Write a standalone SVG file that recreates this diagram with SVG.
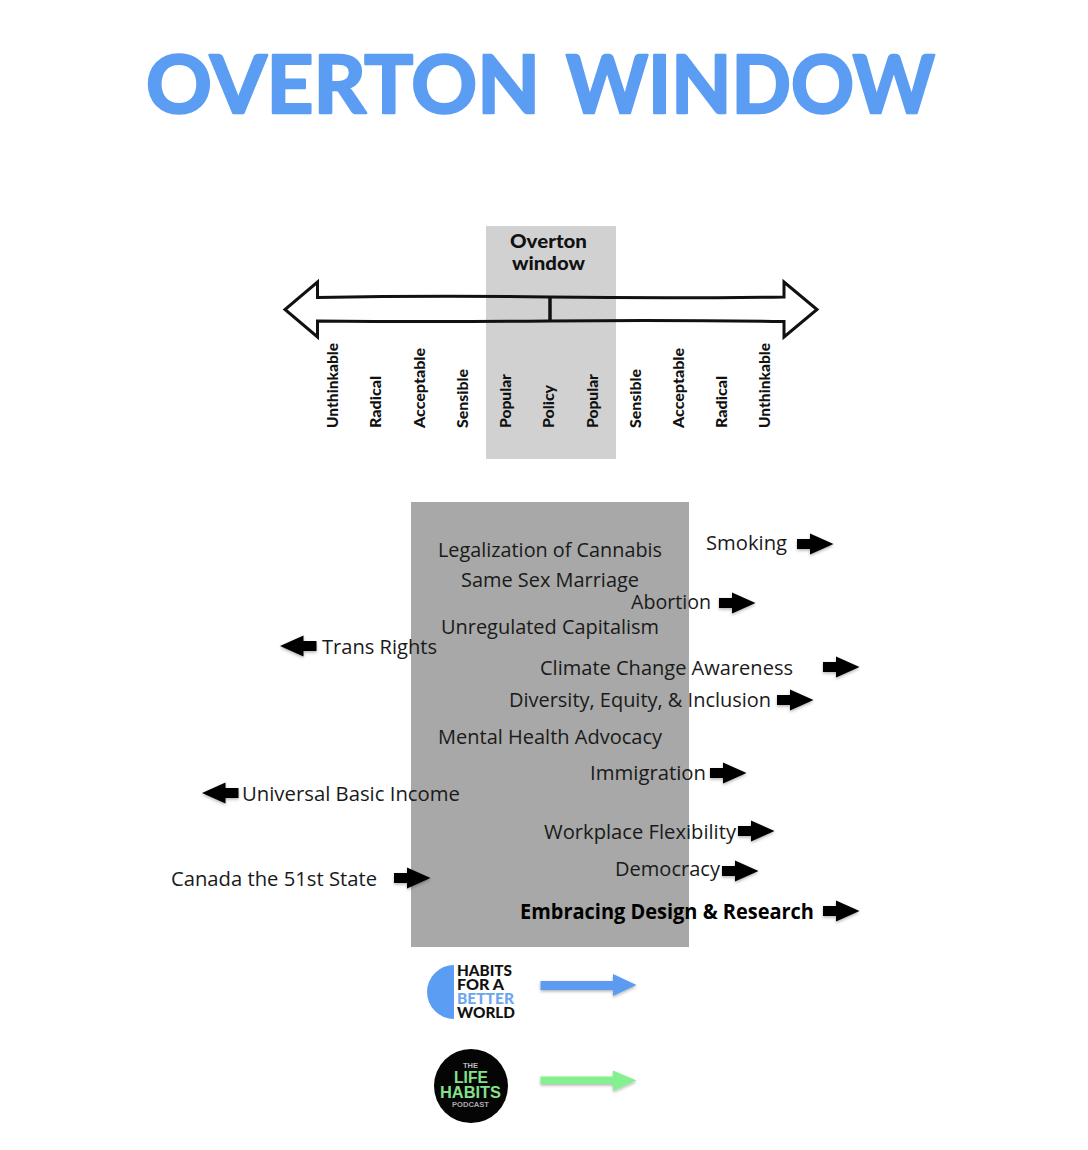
<svg xmlns="http://www.w3.org/2000/svg" width="1088" height="1150" viewBox="0 0 1088 1150">
<style>
.t{font-family:"Open Sans","Noto Sans","Liberation Sans",sans-serif;font-size:20.500px;fill:#1a1a1a}
.b{font-weight:700;fill:#000}
.v{font-family:"Lato","Liberation Sans",sans-serif;font-weight:900;font-size:15px;fill:#111}
.h{font-family:"Lato","Liberation Sans",sans-serif;font-weight:900;font-size:19px;fill:#111}
.l{font-family:"Lato","Liberation Sans",sans-serif;font-weight:900;fill:#111;font-size:14.500px}
.p{font-family:"Liberation Sans",sans-serif;font-weight:700}
</style>
<defs>
<filter id="s" x="-20%" y="-30%" width="140%" height="170%"><feDropShadow dx="0" dy="1.500" stdDeviation="1.500" flood-color="#000" flood-opacity=".3"/></filter>
<path id="ar" d="M0-5H13V-10.500L36.500 0L13 10.500V5H0Z" fill="#000" filter="url(#s)"/>
<path id="al" d="M36.500-5H23.500V-10.500L0 0L23.500 10.500V5H36.500Z" fill="#000" filter="url(#s)"/>
</defs>

<text id="title" y="113" font-family="Lato,'Liberation Sans',sans-serif" font-weight="700" font-size="80" fill="#5b9df2" stroke="#5b9df2" stroke-width="2.500" stroke-linejoin="round"><tspan x="146" textLength="394" lengthAdjust="spacingAndGlyphs">OVERTON</tspan> <tspan x="566" textLength="369" lengthAdjust="spacingAndGlyphs">WINDOW</tspan></text>

<g id="spectrum">
<rect x="486" y="226" width="130" height="233" fill="#d1d1d1"/>
<path fill="none" stroke="#111" stroke-width="3" stroke-linejoin="miter" d="M317.500 297.500Q430 295.500 549 297Q670 298.500 784 297V282L817 309.500L784 337V321.500Q670 320 549 321Q430 322 317.500 321V337L285 309.500L317.500 282Z"/>
<path d="M550 297V321" stroke="#111" stroke-width="3.500" fill="none"/>
<text class="h" x="510" y="248" textLength="77" lengthAdjust="spacingAndGlyphs">Overton</text>
<text class="h" x="512" y="270" textLength="73" lengthAdjust="spacingAndGlyphs">window</text>
<text class="v" transform="translate(338 428) rotate(-90)" textLength="85" lengthAdjust="spacingAndGlyphs">Unthinkable</text>
<text class="v" transform="translate(381 428) rotate(-90)" textLength="52" lengthAdjust="spacingAndGlyphs">Radical</text>
<text class="v" transform="translate(424.500 428) rotate(-90)" textLength="80" lengthAdjust="spacingAndGlyphs">Acceptable</text>
<text class="v" transform="translate(467.500 428) rotate(-90)" textLength="59" lengthAdjust="spacingAndGlyphs">Sensible</text>
<text class="v" transform="translate(511 428) rotate(-90)" textLength="54" lengthAdjust="spacingAndGlyphs">Popular</text>
<text class="v" transform="translate(554 428) rotate(-90)" textLength="43" lengthAdjust="spacingAndGlyphs">Policy</text>
<text class="v" transform="translate(597.500 428) rotate(-90)" textLength="54" lengthAdjust="spacingAndGlyphs">Popular</text>
<text class="v" transform="translate(640.500 428) rotate(-90)" textLength="59" lengthAdjust="spacingAndGlyphs">Sensible</text>
<text class="v" transform="translate(684 428) rotate(-90)" textLength="80" lengthAdjust="spacingAndGlyphs">Acceptable</text>
<text class="v" transform="translate(727 428) rotate(-90)" textLength="52" lengthAdjust="spacingAndGlyphs">Radical</text>
<text class="v" transform="translate(770 428) rotate(-90)" textLength="85" lengthAdjust="spacingAndGlyphs">Unthinkable</text>
</g>

<rect id="window" x="411" y="502" width="278" height="445" fill="#a7a8a7"/>

<g id="labels">
<text class="t" x="438" y="557" textLength="224" lengthAdjust="spacingAndGlyphs">Legalization of Cannabis</text>
<text class="t" x="461" y="587" textLength="178" lengthAdjust="spacingAndGlyphs">Same Sex Marriage</text>
<text class="t" x="706" y="550" textLength="81" lengthAdjust="spacingAndGlyphs">Smoking</text>
<text class="t" x="631" y="609" textLength="80" lengthAdjust="spacingAndGlyphs">Abortion</text>
<text class="t" x="441" y="634" textLength="218" lengthAdjust="spacingAndGlyphs">Unregulated Capitalism</text>
<text class="t" x="322" y="654" textLength="115" lengthAdjust="spacingAndGlyphs">Trans Rights</text>
<text class="t" x="540" y="675" textLength="253" lengthAdjust="spacingAndGlyphs">Climate Change Awareness</text>
<text class="t" x="509" y="707" textLength="262" lengthAdjust="spacingAndGlyphs">Diversity, Equity, &amp; Inclusion</text>
<text class="t" x="438" y="744" textLength="224" lengthAdjust="spacingAndGlyphs">Mental Health Advocacy</text>
<text class="t" x="590" y="780" textLength="116" lengthAdjust="spacingAndGlyphs">Immigration</text>
<text class="t" x="242" y="801" textLength="218" lengthAdjust="spacingAndGlyphs">Universal Basic Income</text>
<text class="t" x="544" y="839" textLength="192" lengthAdjust="spacingAndGlyphs">Workplace Flexibility</text>
<text class="t" x="615" y="876" textLength="105" lengthAdjust="spacingAndGlyphs">Democracy</text>
<text class="t" x="171" y="886" textLength="206" lengthAdjust="spacingAndGlyphs">Canada the 51st State</text>
<text class="t b" x="520" y="919" textLength="294" lengthAdjust="spacingAndGlyphs">Embracing Design &amp; Research</text>
</g>

<g id="connectors">
<use href="#ar" x="797" y="544"/>
<use href="#ar" x="719" y="603"/>
<use href="#al" x="280" y="646"/>
<use href="#ar" x="823" y="667"/>
<use href="#ar" x="777" y="700"/>
<use href="#ar" x="710" y="773"/>
<use href="#al" x="202" y="793"/>
<use href="#ar" x="738" y="831"/>
<use href="#ar" x="722" y="871"/>
<use href="#ar" x="394" y="878"/>
<use href="#ar" x="823" y="911"/>
<path d="M540.500 981H613V974L636.500 985L613 996V990H540.500Z" fill="#5b9bf0" filter="url(#s)"/>
<path d="M540.500 1076.500H613V1070.500L636.500 1080.500L613 1091V1084H540.500Z" fill="#84f08f" filter="url(#s)"/>
</g>

<g id="habits-logo">
<path d="M454 965A27 27 0 0 0 454 1019Z" fill="#5b9df2"/>
<text class="l" x="457" y="975.500" textLength="55" lengthAdjust="spacingAndGlyphs">HABITS</text>
<text class="l" x="457" y="989.500" textLength="47" lengthAdjust="spacingAndGlyphs">FOR A</text>
<text class="l" x="457" y="1003.500" textLength="57" lengthAdjust="spacingAndGlyphs" style="fill:#6ba6ee">BETTER</text>
<text class="l" x="457" y="1017.500" textLength="58" lengthAdjust="spacingAndGlyphs">WORLD</text>
</g>
<g id="podcast-logo">
<circle cx="471" cy="1086" r="37" fill="#050505"/>
<text class="p" x="463" y="1068" font-size="7.500" textLength="15" lengthAdjust="spacingAndGlyphs" fill="#bbb">THE</text>
<text class="p" x="454" y="1083" font-size="16" textLength="34" lengthAdjust="spacingAndGlyphs" fill="#84e08a">LIFE</text>
<text class="p" x="440" y="1098" font-size="16" textLength="61" lengthAdjust="spacingAndGlyphs" fill="#84e08a">HABITS</text>
<text class="p" x="452" y="1107" font-size="7.500" textLength="37" lengthAdjust="spacingAndGlyphs" fill="#aaa">PODCAST</text>
</g>
</svg>
